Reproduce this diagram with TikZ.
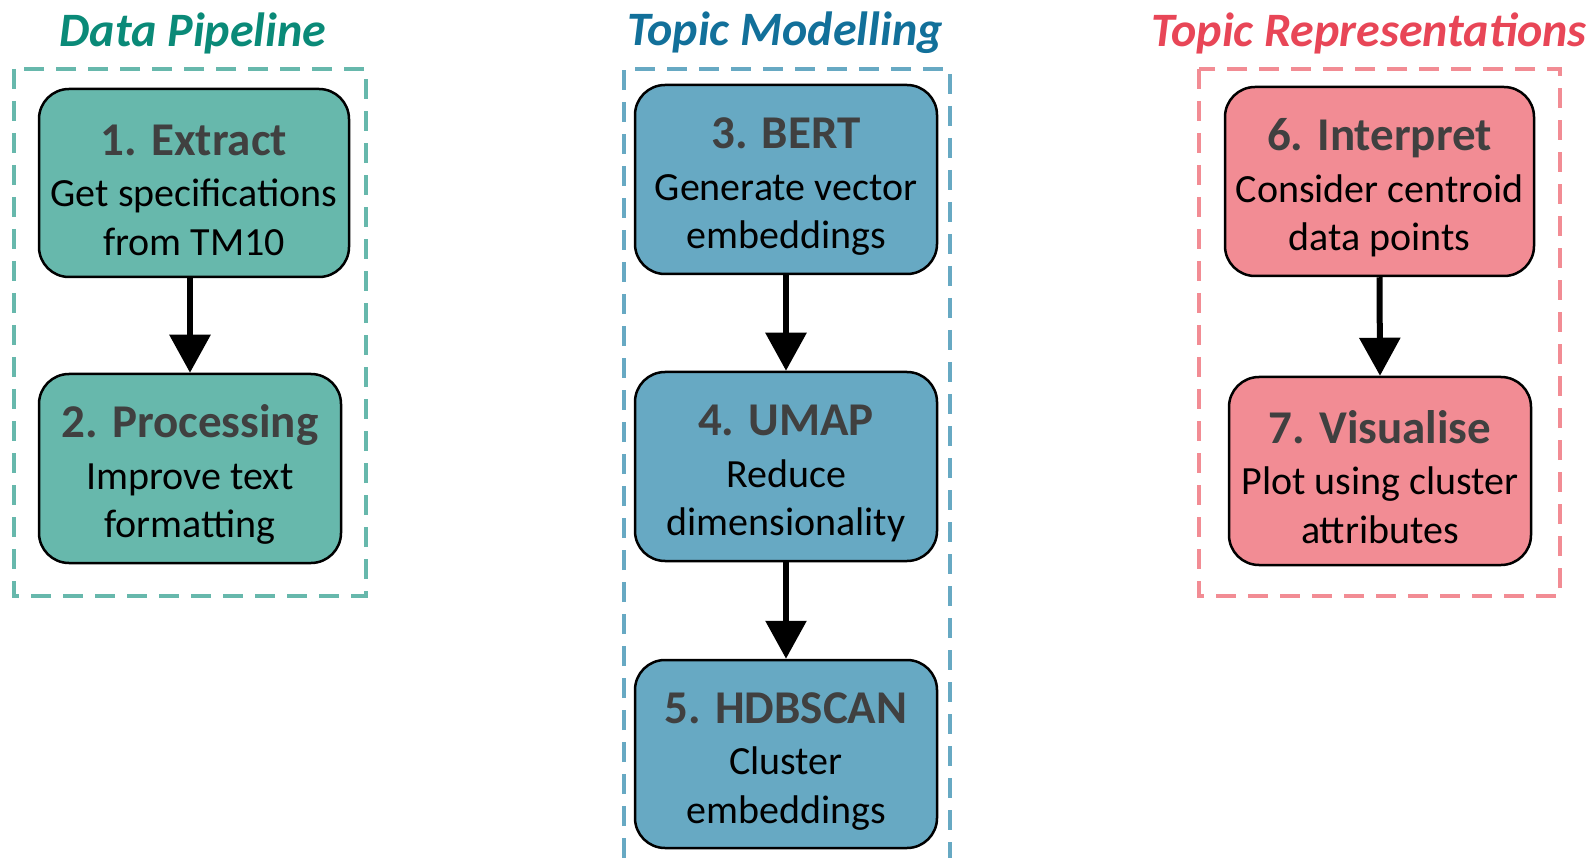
\documentclass[tikz,border=0pt]{standalone}
\usepackage{fontspec}
\setmainfont{Carlito}
\usetikzlibrary{arrows.meta}
\definecolor{tealfill}{HTML}{67B8AC}
\definecolor{tealtitle}{HTML}{0A8A78}
\definecolor{bluefill}{HTML}{67A9C3}
\definecolor{bluetitle}{HTML}{12709A}
\definecolor{redfill}{HTML}{F28C94}
\definecolor{redtitle}{HTML}{E84657}
\definecolor{headgray}{HTML}{404040}
\newcommand{\hd}[1]{{\rule{0pt}{45pt}\fontsize{47}{49}\selectfont\bfseries\color{headgray}#1}\\[3pt]}
\tikzset{
  stepbox/.style={draw=black, line width=2.5pt, rounded corners=30pt, align=center,
    font=\fontsize{40}{48.5}\selectfont, inner sep=0pt},
  frame/.style={line width=3.2pt, dash pattern=on 20pt off 12pt},
  sectitle/.style={font=\fontsize{48}{50}\selectfont\bfseries\itshape, inner sep=0pt},
  flow/.style={line width=6pt, -{Triangle[width=40pt,length=38pt]}}
}
\begin{document}
\begin{tikzpicture}[x=1pt,y=-1pt]
\useasboundingbox (0,0) rectangle (1593,858);
% frames
\draw[frame, draw=tealfill] (14,69) rectangle (366,596);
\draw[frame, draw=bluefill] (624,858) -- (624,69) -- (950,69) -- (950,858);
\draw[frame, draw=redfill] (1199,69) rectangle (1560,596);
% titles
\node[sectitle, text=tealtitle] (t1) at (193,33) {Data Pipeline};
\node[sectitle, text=bluetitle] (t2) at (785,33) {Topic Modelling};
\node[sectitle, text=redtitle] (t3) at (1369,33) {Topic Representations};
% boxes
\node[stepbox, fill=tealfill, minimum width=310pt, minimum height=188pt] (b1) at (194,183)
  {\hd{1. Extract}Get specifications\\from TM10};
\node[stepbox, fill=tealfill, minimum width=302pt, minimum height=189pt] (b2) at (190,468.5)
  {\hd{2. Processing}Improve text\\formatting};
\node[stepbox, fill=bluefill, minimum width=302pt, minimum height=189pt] (b3) at (786,179.5)
  {\hd{3. BERT}Generate vector\\embeddings};
\node[stepbox, fill=bluefill, minimum width=302pt, minimum height=189pt] (b4) at (786,466.5)
  {\hd{4. UMAP}Reduce\\dimensionality};
\node[stepbox, fill=bluefill, minimum width=302pt, minimum height=188pt] (b5) at (786,754)
  {\hd{5. HDBSCAN}Cluster\\embeddings};
\node[stepbox, fill=redfill, minimum width=309pt, minimum height=189pt] (b6) at (1379.5,181.5)
  {\hd{6. Interpret}Consider centroid\\data points};
\node[stepbox, fill=redfill, minimum width=302pt, minimum height=188pt] (b7) at (1380,471)
  {\hd{7. Visualise}Plot using cluster\\attributes};
% arrows
\draw[flow] (b1.south -| b2.north) -- (b2.north);
\draw[flow] (b3.south) -- (b4.north);
\draw[flow] (b4.south) -- (b5.north);
\draw[flow] (b6.south) -- (b7.north);
\end{tikzpicture}
\end{document}
